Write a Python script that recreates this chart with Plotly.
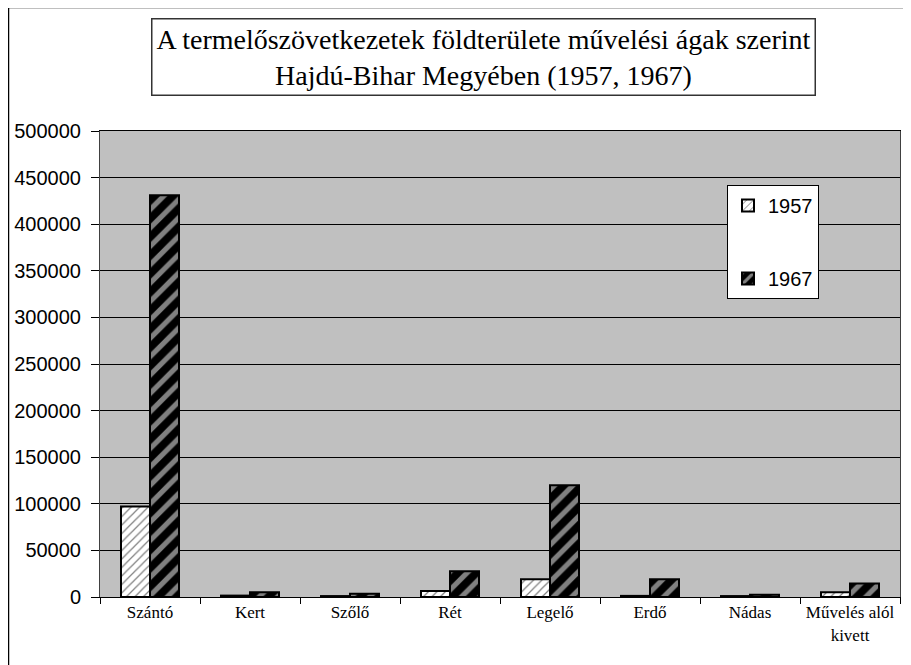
import plotly.graph_objects as go

categories = ["Szántó", "Kert", "Szőlő", "Rét", "Legelő", "Erdő", "Nádas", "Művelés alól<br>kivett"]
values_1957 = [97000, 1500, 1000, 6500, 19000, 1200, 1000, 5000]
values_1967 = [431000, 5000, 3500, 27500, 120000, 19000, 2500, 14500]
y_ticks = [0, 50000, 100000, 150000, 200000, 250000, 300000, 350000, 400000, 450000, 500000]

# page body has an 8px margin, so figure coords = screen coords - 8
OFF = 8
W, H = 911, 665
L, R, T, B = 92, 19, 123, 76
pw, ph = W - L - R, H - T - B


def px_x(x):
    return (x - OFF - L) / pw


def px_y(y):
    return (H - B - (y - OFF)) / ph


fig = go.Figure()
fig.add_trace(go.Bar(
    x=categories, y=values_1957, name="1957", legendgroup="a",
    marker=dict(
        color="white",
        line=dict(color="black", width=2),
        pattern=dict(shape="/", fgcolor="black", bgcolor="white", size=6, solidity=0.2),
    ),
))
fig.add_trace(go.Bar(
    x=categories, y=values_1967, name="1967", legendgroup="b",
    marker=dict(
        color="black",
        line=dict(color="black", width=2),
        pattern=dict(shape="/", fgcolor="white", bgcolor="black", size=13, solidity=0.4),
    ),
))

# outer chart border (extends past the canvas on right/bottom)
fig.add_shape(type="rect", xref="paper", yref="paper",
              x0=px_x(8.5), x1=px_x(W + 40), y0=px_y(H + 40), y1=px_y(7.5),
              line=dict(color="black", width=1.5), fillcolor="rgba(0,0,0,0)", layer="below")

fig.add_annotation(
    xref="paper", yref="paper", x=px_x(483), y=px_y(57),
    text="A termelőszövetkezetek földterülete művelési ágak szerint<br>Hajdú-Bihar Megyében (1957, 1967)",
    showarrow=False, xanchor="center", yanchor="middle",
    font=dict(family="Liberation Serif", size=28, color="black"),
    bordercolor="#333333", borderwidth=1.5, borderpad=4, bgcolor="white",
)

fig.update_layout(
    width=W, height=H,
    margin=dict(l=L, r=R, t=T, b=B),
    paper_bgcolor="white",
    plot_bgcolor="#C0C0C0",
    barmode="group",
    bargap=0.42,
    bargroupgap=0,
    showlegend=True,
    legend=dict(
        x=px_x(727), y=px_y(185), xanchor="left", yanchor="top",
        bgcolor="white", bordercolor="black", borderwidth=1,
        font=dict(family="Liberation Sans", size=20, color="black"),
        traceorder="grouped", tracegroupgap=44,
        itemwidth=30,
    ),
    xaxis=dict(
        type="category", automargin=False, tickangle=0,
        tickson="boundaries", ticks="outside", ticklen=6, tickcolor="black",
        showline=True, linecolor="black", linewidth=1, mirror=True,
        tickfont=dict(family="Liberation Serif", size=17, color="black"),
        showgrid=False,
    ),
    yaxis=dict(
        range=[0, 500000], tickvals=y_ticks, tickformat="d", automargin=False,
        ticks="outside", ticklen=8, tickcolor="black", ticklabelstandoff=6,
        showline=True, linecolor="#404040", linewidth=1, mirror=True,
        gridcolor="black", gridwidth=1, zeroline=False,
        tickfont=dict(family="Liberation Sans", size=20, color="black"),
    ),
)

fig.write_html("out.html")
